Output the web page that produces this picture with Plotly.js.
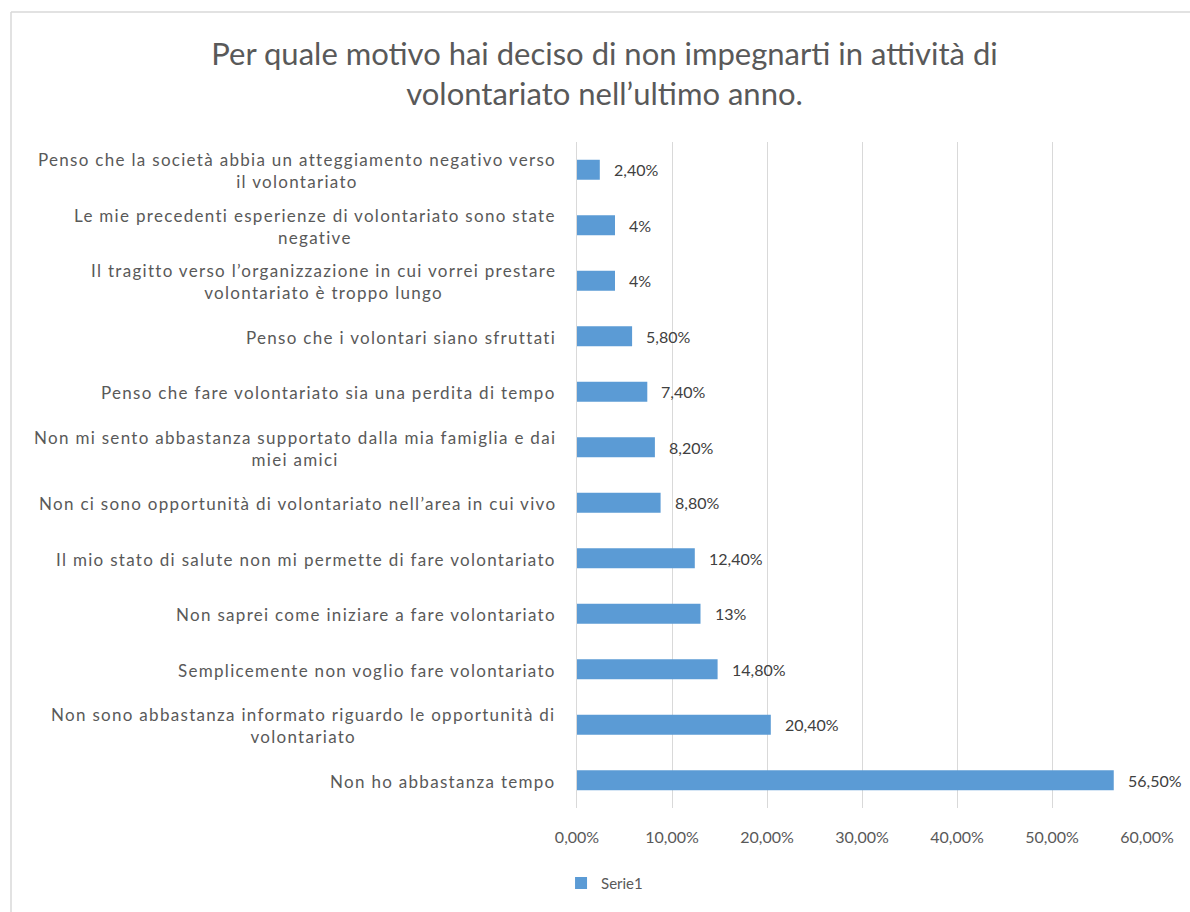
<!DOCTYPE html>
<html>
<head>
<meta charset="utf-8">
<script src="https://cdn.plot.ly/plotly-3.0.1.min.js"></script>
<style>
html,body{margin:0;padding:0;background:#fff;}
#chart{width:1190px;height:912px;}
</style>
</head>
<body>
<div id="chart"></div>
<script>
const titleLines = ["Per quale motivo hai deciso di non impegnarti in attività di", "volontariato nell’ultimo anno."];
const categories = [
  "Penso che la società abbia un atteggiamento negativo verso<br>il volontariato",
  "Le mie precedenti esperienze di volontariato sono state<br>negative",
  "Il tragitto verso l’organizzazione in cui vorrei prestare<br>volontariato è troppo lungo",
  "Penso che i volontari siano sfruttati",
  "Penso che fare volontariato sia una perdita di tempo",
  "Non mi sento abbastanza supportato dalla mia famiglia e dai<br>miei amici",
  "Non ci sono opportunità di volontariato nell’area in cui vivo",
  "Il mio stato di salute non mi permette di fare volontariato",
  "Non saprei come iniziare a fare volontariato",
  "Semplicemente non voglio fare volontariato",
  "Non sono abbastanza informato riguardo le opportunità di<br>volontariato",
  "Non ho abbastanza tempo"
];
const values = [0.024, 0.04, 0.04, 0.058, 0.074, 0.082, 0.088, 0.124, 0.13, 0.148, 0.204, 0.565];
const valueLabels = ["2,40%", "4%", "4%", "5,80%", "7,40%", "8,20%", "8,80%", "12,40%", "13%", "14,80%", "20,40%", "56,50%"];
const tickValues = [0, 0.1, 0.2, 0.3, 0.4, 0.5, 0.6];
const tickLabels = ["0,00%", "10,00%", "20,00%", "30,00%", "40,00%", "50,00%", "60,00%"];
const seriesName = "Serie1";

const FONT = "Lato, 'Open Sans', sans-serif";

const trace = {
  type: "bar",
  orientation: "h",
  name: seriesName,
  x: values,
  y: categories,
  marker: {color: "#5B9BD5"},
  hoverinfo: "x+y"
};

function spaced(label) {
  return label.split("<br>").map(l => '<span style="letter-spacing:1.3px">' + l + '</span>').join("<br>");
}

const catAnnotations = categories.map(c => ({
  xref: "paper", yref: "y", x: 0, y: c, xshift: -19, yshift: -1,
  xanchor: "right", yanchor: "middle", align: "center",
  text: spaced(c), showarrow: false,
  font: {family: FONT, size: 17, color: "#595959"}
}));

const valAnnotations = values.map((v, i) => ({
  xref: "x", yref: "y", x: v, y: categories[i], xshift: 12,
  xanchor: "left", yanchor: "middle",
  text: valueLabels[i], showarrow: false,
  font: {family: FONT, size: 16, color: "#404040"}
}));

const layout = {
  width: 1190, height: 912,
  paper_bgcolor: "#ffffff", plot_bgcolor: "#ffffff",
  margin: {l: 577, r: 43, t: 142, b: 104},
  title: {
    text: titleLines.join("<br>"),
    x: 0.508, xanchor: "center", xref: "container",
    y: 0.929, yanchor: "middle", yref: "container",
    font: {family: FONT, size: 31, color: "#595959"}
  },
  bargap: 0.64,
  showlegend: true,
  legend: {
    orientation: "h", x: -0.028, xanchor: "left", y: -0.113, yanchor: "middle",
    font: {family: FONT, size: 15, color: "#595959"}
  },
  xaxis: {
    range: [0, 0.6],
    tickvals: tickValues, ticktext: tickLabels,
    showgrid: true, gridcolor: "#D9D9D9", gridwidth: 1,
    zeroline: false, showline: false, ticks: "",
    ticklabelstandoff: 18,
    tickfont: {family: FONT, size: 16, color: "#595959"},
    fixedrange: true
  },
  yaxis: {
    type: "category",
    autorange: "reversed",
    showticklabels: false,
    showgrid: false, zeroline: false,
    showline: true, linecolor: "#D9D9D9", linewidth: 1,
    ticks: "", fixedrange: true
  },
  annotations: catAnnotations.concat(valAnnotations),
  shapes: [
    {type: "line", xref: "paper", yref: "paper",
     x0: (11 - 577) / 570, x1: (1190 - 577) / 570,
     y0: (808 - 12) / 666, y1: (808 - 12) / 666,
     line: {color: "#D9D9D9", width: 1.5}, layer: "below"},
    {type: "line", xref: "paper", yref: "paper",
     x0: (11 - 577) / 570, x1: (11 - 577) / 570,
     y0: (808 - 12) / 666, y1: (808 - 912) / 666,
     line: {color: "#D9D9D9", width: 1.5}, layer: "below"}
  ]
};

Plotly.newPlot("chart", [trace], layout, {displayModeBar: false, staticPlot: true});
</script>
</body>
</html>
